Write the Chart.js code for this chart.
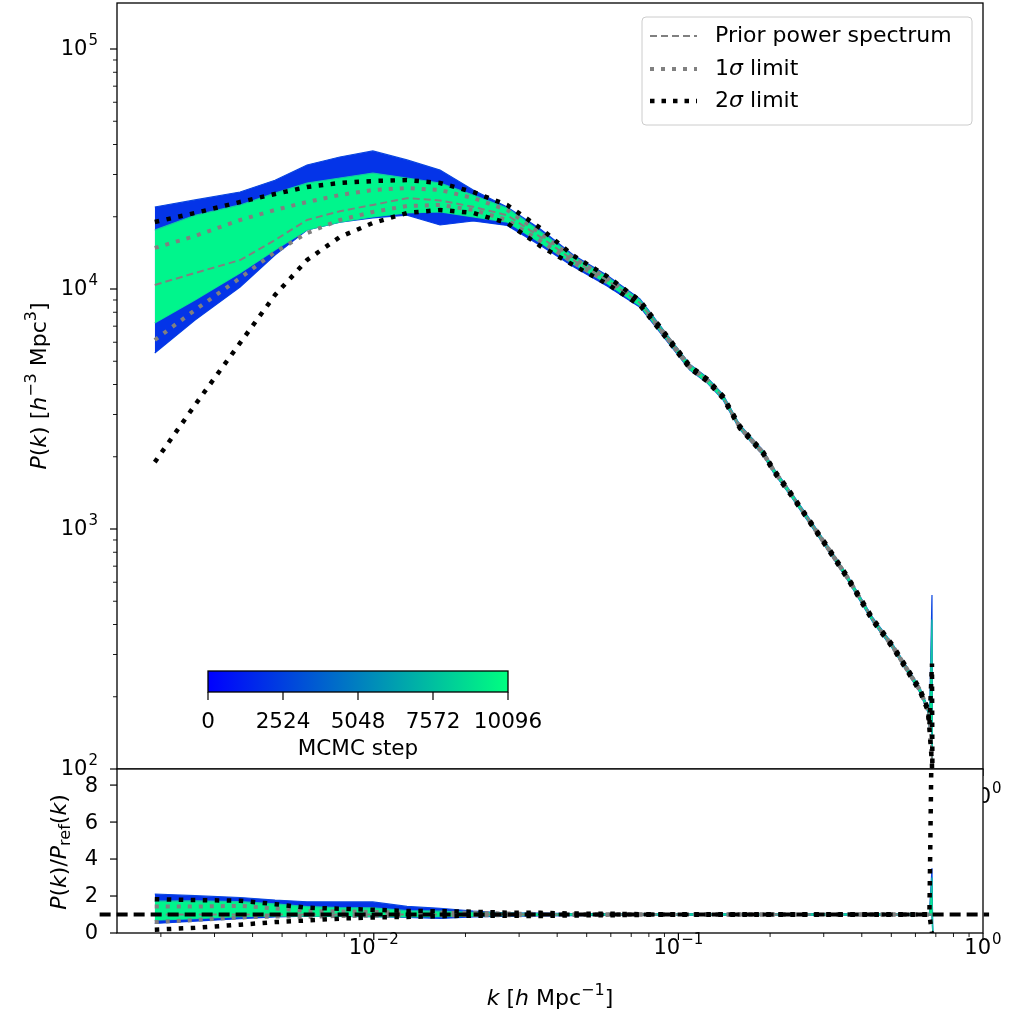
<!DOCTYPE html>
<html>
<head>
<meta charset="utf-8">
<script src="https://cdn.jsdelivr.net/npm/chart.js@4.4.0/dist/chart.umd.min.js"></script>
<style>
  html, body { margin: 0; padding: 0; background: #fff; }
  #wrap { position: relative; width: 1009px; height: 1013px; overflow: hidden; }
  #topChart { position: absolute; left: 0; top: 0; }
  #ratioChart { position: absolute; left: 0; top: 760px; }
</style>
</head>
<body>
<div id="wrap">
  <canvas id="topChart" width="1009" height="810"></canvas>
  <canvas id="ratioChart" width="1009" height="253"></canvas>
</div>
<script>
// k bins [h/Mpc]
const kBins = [0.00191, 0.00259, 0.00364, 0.00474, 0.00604, 0.00774, 0.00993, 0.01285, 0.0165, 0.0212,
  0.0274, 0.0352, 0.0451, 0.0583, 0.0748, 0.0959, 0.109, 0.124, 0.140, 0.159,
  0.190, 0.205, 0.233, 0.264, 0.308, 0.358, 0.435, 0.507, 0.621, 0.660,
  0.667, 0.680, 0.684];

// P(k) curves
const pPrior = [10400, 11660, 13200, 16000, 19400, 21100, 22400, 23900, 23400, 22000,
  20300, 16500, 13200, 10900, 8750, 5840, 4730, 4180, 3550, 2660,
  2070, 1760, 1410, 1120, 841, 631, 418, 322, 213, 176,
  150, 110, 40];
const pSig1Up = [14830, 16630, 19390, 21350, 23050, 24650, 25850, 26360, 25850, 23930,
  21350, 17100, 13500, 11100, 8850, 5880, 4760, 4200, 3570, 2670,
  2080, 1770, 1415, 1125, 845, 634, 420, 324, 214, 177,
  151, 112, 40];
const pSig1Lo = [6130, 8180, 11110, 14250, 17100, 19390, 20940, 22180, 22390, 21350,
  19390, 15850, 12900, 10700, 8650, 5800, 4700, 4160, 3530, 2650,
  2060, 1750, 1405, 1115, 837, 628, 416, 320, 212, 175,
  149, 108, 40];
const pSig2Up = [19010, 20740, 23050, 24890, 26610, 27650, 28180, 28450, 27650, 25360,
  22390, 17950, 13800, 11300, 8950, 5920, 4790, 4230, 3590, 2690,
  2090, 1780, 1425, 1130, 850, 638, 423, 326, 216, 178,
  152, 275, 40];
const pSig2Lo = [1900, 3290, 5960, 9440, 13210, 16480, 18840, 20740, 21350, 20740,
  18840, 15110, 12600, 10500, 8550, 5760, 4670, 4130, 3510, 2630,
  2050, 1740, 1395, 1110, 832, 624, 413, 318, 210, 174,
  148, 105, 40];
// MCMC samples: envelope of early steps (blue) and late steps (green)
const pEarlyUp = [21960, 23500, 25360, 28400, 32850, 35480, 37600, 34500, 31300, 25850,
  21960, 17800, 13900, 11400, 9100, 6000, 4860, 4290, 3640, 2720,
  2120, 1800, 1440, 1145, 860, 645, 427, 329, 218, 180,
  153, 531, 40];
const pEarlyLo = [5410, 7430, 10200, 13860, 17610, 19000, 19770, 20330, 18480, 19200,
  18400, 15200, 12400, 10300, 8400, 5650, 4600, 4070, 3460, 2600,
  2020, 1720, 1380, 1095, 822, 617, 409, 315, 208, 172,
  147, 145, 40];
const pLateUp = [17600, 20300, 22400, 25100, 27650, 29000, 30400, 29000, 27650, 24650,
  21750, 17400, 13700, 11250, 9000, 5980, 4840, 4270, 3620, 2710,
  2110, 1790, 1435, 1140, 856, 642, 425, 328, 217, 179,
  152, 420, 40];
const pLateLo = [7220, 9000, 11660, 14540, 17610, 19000, 19950, 20750, 20940, 19950,
  19000, 15600, 12700, 10550, 8500, 5700, 4620, 4090, 3480, 2610,
  2030, 1730, 1385, 1100, 826, 620, 411, 316, 209, 173,
  148, 146, 40];

// ratio P(k)/P_ref(k)
const rPrior = [1, 1, 1, 1, 1, 1, 1, 1, 1, 1, 1, 1, 1, 1, 1, 1, 1, 1, 1, 1,
  1, 1, 1, 1, 1, 1, 1, 1, 1, 1, 1, 1, 1];
const rSig1Up = [1.43, 1.43, 1.47, 1.33, 1.19, 1.17, 1.15, 1.10, 1.10, 1.09,
  1.05, 1.04, 1.02, 1.02, 1.01, 1.01, 1.01, 1.01, 1.01, 1.01,
  1.01, 1.01, 1.01, 1.01, 1.01, 1.01, 1.01, 1.01, 1.01, 1.01,
  1.01, 1.01, 1.01];
const rSig1Lo = [0.59, 0.70, 0.84, 0.89, 0.88, 0.92, 0.93, 0.93, 0.96, 0.97,
  0.96, 0.96, 0.98, 0.98, 0.99, 0.99, 0.99, 0.99, 0.99, 0.99,
  0.99, 0.99, 0.99, 0.99, 0.99, 0.99, 0.99, 0.99, 0.99, 0.99,
  0.99, 0.99, 0.99];
const rSig2Up = [1.83, 1.78, 1.75, 1.56, 1.37, 1.31, 1.26, 1.19, 1.18, 1.15,
  1.10, 1.09, 1.05, 1.04, 1.02, 1.01, 1.01, 1.01, 1.01, 1.01,
  1.01, 1.01, 1.01, 1.01, 1.01, 1.01, 1.01, 1.01, 1.01, 1.01,
  1.01, 12, 12];
const rSig2Lo = [0.18, 0.28, 0.45, 0.59, 0.68, 0.78, 0.84, 0.87, 0.91, 0.94,
  0.93, 0.92, 0.95, 0.96, 0.98, 0.99, 0.99, 0.99, 0.99, 0.99,
  0.99, 0.99, 0.99, 0.99, 0.99, 0.99, 0.99, 0.99, 0.99, 0.99,
  0.99, 0, 0];
const rEarlyUp = [2.11, 2.02, 1.92, 1.78, 1.69, 1.68, 1.68, 1.44, 1.34, 1.18,
  1.08, 1.08, 1.05, 1.05, 1.04, 1.04, 1.04, 1.04, 1.04, 1.04,
  1.04, 1.04, 1.04, 1.04, 1.04, 1.04, 1.04, 1.04, 1.04, 1.04,
  1.04, 3.5, 0];
const rEarlyLo = [0.52, 0.64, 0.77, 0.87, 0.91, 0.90, 0.88, 0.85, 0.79, 0.87,
  0.91, 0.92, 0.94, 0.95, 0.96, 0.96, 0.96, 0.96, 0.96, 0.96,
  0.96, 0.96, 0.96, 0.96, 0.96, 0.96, 0.96, 0.96, 0.96, 0.96,
  0.96, 0.96, 0];
const rLateUp = [1.72, 1.74, 1.70, 1.57, 1.43, 1.37, 1.36, 1.21, 1.18, 1.12,
  1.07, 1.05, 1.04, 1.03, 1.03, 1.03, 1.03, 1.03, 1.03, 1.03,
  1.03, 1.03, 1.03, 1.03, 1.03, 1.03, 1.03, 1.03, 1.03, 1.03,
  1.03, 3.0, 0];
const rLateLo = [0.69, 0.77, 0.88, 0.91, 0.91, 0.90, 0.89, 0.87, 0.89, 0.91,
  0.94, 0.95, 0.96, 0.97, 0.97, 0.97, 0.97, 0.97, 0.97, 0.97,
  0.97, 0.97, 0.97, 0.97, 0.97, 0.97, 0.97, 0.97, 0.97, 0.97,
  0.97, 0.97, 0];
const refLevel = 1;

// axes / ticks
const kMin = Math.pow(10, -2.843), kMax = 1.0;
const pMin = 100, pMax = Math.pow(10, 5.1917);
const rMin = 0, rMax = 8.87;
const kTickExps = [-2, -1, 0];
const pTickExps = [2, 3, 4, 5];
const ratioTicks = [0, 2, 4, 6, 8];
const cbarTicks = [0, 2524, 5048, 7572, 10096];
const cbarMax = 10096;

const FONT = '"DejaVu Sans", sans-serif';
const TICK_PX = 21, LABEL_PX = 22;
const cEarly = 'rgb(4, 52, 232)';
const cLate = 'rgb(0, 245, 140)';

function pts(arr) {
  return kBins.map((k, i) => ({ x: k, y: arr[i] }));
}

// superscripted power of ten label
function drawPow(ctx, exp, x, y, align, size) {
  const base = '10', sup = exp < 0 ? '\u2212' + Math.abs(exp) : String(exp);
  ctx.font = size + 'px ' + FONT;
  const wb = ctx.measureText(base).width;
  const ss = Math.round(size * 0.72);
  ctx.font = ss + 'px ' + FONT;
  const ws = ctx.measureText(sup).width;
  const w = wb + ws + 1;
  let x0 = x;
  if (align === 'right') x0 = x - w;
  else if (align === 'center') x0 = x - w / 2;
  ctx.textAlign = 'left';
  ctx.textBaseline = 'middle';
  ctx.font = size + 'px ' + FONT;
  ctx.fillText(base, x0, y);
  ctx.font = ss + 'px ' + FONT;
  ctx.fillText(sup, x0 + wb + 1, y - size * 0.42);
}

// mixed italic / sub / sup text, centred on (x, y), optional rotation
function drawRich(ctx, segs, x, y, size, rot) {
  const fontOf = (st) => {
    const small = st === 'sup' || st === 'sub';
    const s = small ? Math.round(size * 0.72) : size;
    const it = st === 'i' ? 'italic ' : '';
    return it + s + 'px ' + FONT;
  };
  let total = 0;
  segs.forEach(s => { ctx.font = fontOf(s[1]); total += ctx.measureText(s[0]).width; });
  ctx.save();
  ctx.translate(x, y);
  if (rot) ctx.rotate(rot);
  ctx.textAlign = 'left';
  ctx.textBaseline = 'middle';
  let cx = -total / 2;
  segs.forEach(s => {
    ctx.font = fontOf(s[1]);
    let dy = 0;
    if (s[1] === 'sup') dy = -size * 0.38;
    if (s[1] === 'sub') dy = size * 0.28;
    ctx.fillText(s[0], cx, dy);
    cx += ctx.measureText(s[0]).width;
  });
  ctx.restore();
}

function logTicks(ctx, scale, a, axis, fromExp, toExp) {
  for (let e = fromExp; e <= toExp; e++) {
    for (let m = 1; m <= 9; m++) {
      const v = m * Math.pow(10, e);
      if (v < scale.min * 0.999 || v > scale.max * 1.001) continue;
      const p = scale.getPixelForValue(v);
      const len = m === 1 ? 7 : 4;
      ctx.lineWidth = m === 1 ? 1.2 : 0.9;
      ctx.beginPath();
      if (axis === 'y') { ctx.moveTo(a.left - len, p); ctx.lineTo(a.left, p); }
      else { ctx.moveTo(p, a.bottom); ctx.lineTo(p, a.bottom + len); }
      ctx.stroke();
    }
  }
}

const topDecor = {
  id: 'topDecor',
  afterDraw(chart) {
    const ctx = chart.ctx, a = chart.chartArea;
    const xs = chart.scales.x, ys = chart.scales.y;
    ctx.save();
    ctx.strokeStyle = '#000';
    ctx.fillStyle = '#000';
    // ticks
    logTicks(ctx, ys, a, 'y', 2, 5);
    logTicks(ctx, xs, a, 'x', -3, 0);
    pTickExps.forEach(e => drawPow(ctx, e, a.left - 19, ys.getPixelForValue(Math.pow(10, e)) + 1, 'right', TICK_PX));
    kTickExps.forEach(e => drawPow(ctx, e, xs.getPixelForValue(Math.pow(10, e)), 798, 'center', TICK_PX));
    // frame
    ctx.lineWidth = 1.3;
    ctx.strokeRect(a.left, a.top, a.right - a.left, a.bottom - a.top);
    // y title
    drawRich(ctx, [['P', 'i'], ['(', 'n'], ['k', 'i'], [') [', 'n'], ['h', 'i'], ['\u22123', 'sup'],
      [' Mpc', 'n'], ['3', 'sup'], [']', 'n']], 40, 386, LABEL_PX, -Math.PI / 2);

    // colorbar
    const cbL = 208, cbR = 508, cbT = 671, cbB = 692;
    const g = ctx.createLinearGradient(cbL, 0, cbR, 0);
    g.addColorStop(0, 'rgb(0,0,255)');
    g.addColorStop(1, 'rgb(0,255,128)');
    ctx.fillStyle = g;
    ctx.fillRect(cbL, cbT, cbR - cbL, cbB - cbT);
    ctx.lineWidth = 1.3;
    ctx.strokeStyle = '#000';
    ctx.strokeRect(cbL, cbT, cbR - cbL, cbB - cbT);
    ctx.fillStyle = '#000';
    ctx.font = '21.5px ' + FONT;
    ctx.textAlign = 'center';
    ctx.textBaseline = 'middle';
    cbarTicks.forEach(t => {
      const px = cbL + (cbR - cbL) * t / cbarMax;
      ctx.lineWidth = 1.2;
      ctx.beginPath(); ctx.moveTo(px, cbB); ctx.lineTo(px, cbB + 8); ctx.stroke();
      ctx.fillText(String(t), px, 722);
    });
    ctx.fillText('MCMC step', (cbL + cbR) / 2, 749);

    // legend
    const lx = 642, ly = 17, lw = 330, lh = 108;
    ctx.beginPath();
    ctx.roundRect(lx, ly, lw, lh, 4);
    ctx.fillStyle = 'rgba(255,255,255,0.85)';
    ctx.fill();
    ctx.strokeStyle = '#cccccc';
    ctx.lineWidth = 1;
    ctx.stroke();
    const rows = [
      { y: 36, color: '#808080', w: 2, dash: [7, 4], segs: [['Prior power spectrum', 'n']] },
      { y: 69, color: '#808080', w: 4, dash: [4, 7], segs: [['1', 'n'], ['\u03c3', 'i'], [' limit', 'n']] },
      { y: 101, color: '#000000', w: 4.5, dash: [4.5, 7], segs: [['2', 'n'], ['\u03c3', 'i'], [' limit', 'n']] }
    ];
    rows.forEach(r => {
      ctx.strokeStyle = r.color;
      ctx.lineWidth = r.w;
      ctx.setLineDash(r.dash);
      ctx.beginPath(); ctx.moveTo(650, r.y); ctx.lineTo(697, r.y); ctx.stroke();
      ctx.setLineDash([]);
      ctx.fillStyle = '#000';
      ctx.textAlign = 'left';
      ctx.textBaseline = 'middle';
      let cx = 715;
      r.segs.forEach(s => {
        ctx.font = (s[1] === 'i' ? 'italic ' : '') + LABEL_PX + 'px ' + FONT;
        ctx.fillText(s[0], cx, r.y);
        cx += ctx.measureText(s[0]).width;
      });
    });
    ctx.restore();
  }
};

const ratioDecor = {
  id: 'ratioDecor',
  beforeDatasetsDraw(chart) {
    const ctx = chart.ctx, a = chart.chartArea;
    ctx.save();
    ctx.fillStyle = '#fff';
    ctx.fillRect(a.left, a.top, a.right - a.left, a.bottom - a.top);
    ctx.restore();
  },
  afterDraw(chart) {
    const ctx = chart.ctx, a = chart.chartArea;
    const xs = chart.scales.x, ys = chart.scales.y;
    ctx.save();
    ctx.strokeStyle = '#000';
    ctx.fillStyle = '#000';
    logTicks(ctx, xs, a, 'x', -3, 0);
    kTickExps.forEach(e => drawPow(ctx, e, xs.getPixelForValue(Math.pow(10, e)), a.bottom + 16, 'center', TICK_PX));
    ctx.font = TICK_PX + 'px ' + FONT;
    ctx.textAlign = 'right';
    ctx.textBaseline = 'middle';
    ratioTicks.forEach(t => {
      const py = ys.getPixelForValue(t);
      ctx.lineWidth = 1.2;
      ctx.beginPath(); ctx.moveTo(a.left - 7, py); ctx.lineTo(a.left, py); ctx.stroke();
      ctx.fillText(String(t), a.left - 19, py + 1);
    });
    ctx.lineWidth = 1.3;
    ctx.strokeRect(a.left, a.top, a.right - a.left, a.bottom - a.top);
    drawRich(ctx, [['P', 'i'], ['(', 'n'], ['k', 'i'], [')/', 'n'], ['P', 'i'], ['ref', 'sub'],
      ['(', 'n'], ['k', 'i'], [')', 'n']], 60, 92, LABEL_PX, -Math.PI / 2);
    drawRich(ctx, [['k', 'i'], [' [', 'n'], ['h', 'i'], [' Mpc', 'n'], ['\u22121', 'sup'], [']', 'n']],
      550, 239, LABEL_PX, 0);
    ctx.restore();
  }
};

function line(arr, color, width, dash, order) {
  return { data: pts(arr), borderColor: color, borderWidth: width, borderDash: dash,
    fill: false, pointRadius: 0, tension: 0, order: order };
}
function band(up, lo, color, edge, order) {
  return [
    { data: pts(up), borderColor: edge, borderWidth: 1.2, backgroundColor: color,
      fill: '+1', pointRadius: 0, tension: 0, order: order },
    { data: pts(lo), borderColor: edge, borderWidth: 1.2, backgroundColor: color,
      fill: false, pointRadius: 0, tension: 0, order: order }
  ];
}

const commonOpts = {
  responsive: false,
  animation: false,
  devicePixelRatio: 1,
  plugins: { legend: { display: false }, tooltip: { enabled: false } },
  events: []
};

new Chart(document.getElementById('topChart'), {
  type: 'line',
  data: {
    datasets: [
      line(pSig2Up, '#000000', 4.5, [4.5, 7.5], 0),
      line(pSig2Lo, '#000000', 4.5, [4.5, 7.5], 0),
      line(pSig1Up, '#808080', 4, [4, 7], 1),
      line(pSig1Lo, '#808080', 4, [4, 7], 1),
      line(pPrior, '#808080', 2, [7, 4], 2),
      ...band(pLateUp, pLateLo, cLate, 'rgb(20,200,160)', 3),
      ...band(pEarlyUp, pEarlyLo, cEarly, 'rgb(10,70,225)', 4)
    ]
  },
  options: Object.assign({}, commonOpts, {
    layout: { padding: { left: 117, right: 26, top: 3, bottom: 41 } },
    scales: {
      x: { type: 'logarithmic', min: kMin, max: kMax, display: false },
      y: { type: 'logarithmic', min: pMin, max: pMax, display: false }
    }
  }),
  plugins: [topDecor]
});

new Chart(document.getElementById('ratioChart'), {
  type: 'line',
  data: {
    datasets: [
      Object.assign(line([], '#000000', 4, [11, 6], 0), {
        data: [{ x: Math.pow(10, -2.9), y: refLevel }, { x: Math.pow(10, 0.02), y: refLevel }],
        clip: { left: 20, right: 10, top: 0, bottom: 0 }
      }),
      line(rSig2Up, '#000000', 4.5, [4.5, 7.5], 1),
      line(rSig2Lo, '#000000', 4.5, [4.5, 7.5], 1),
      line(rSig1Up, '#808080', 4, [4, 7], 2),
      line(rSig1Lo, '#808080', 4, [4, 7], 2),
      line(rPrior, '#808080', 2, [7, 4], 3),
      ...band(rLateUp, rLateLo, cLate, 'rgb(20,200,160)', 4),
      ...band(rEarlyUp, rEarlyLo, cEarly, 'rgb(10,70,225)', 5)
    ]
  },
  options: Object.assign({}, commonOpts, {
    layout: { padding: { left: 117, right: 26, top: 9, bottom: 80 } },
    scales: {
      x: { type: 'logarithmic', min: kMin, max: kMax, display: false },
      y: { type: 'linear', min: rMin, max: rMax, display: false }
    }
  }),
  plugins: [ratioDecor]
});
</script>
</body>
</html>
